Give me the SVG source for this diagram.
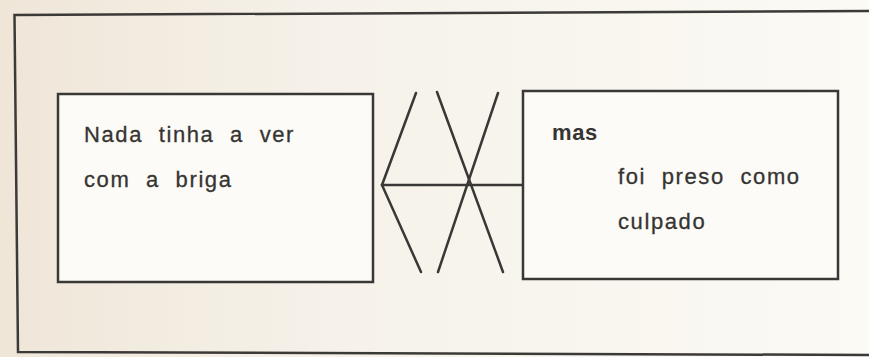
<svg xmlns="http://www.w3.org/2000/svg" width="869" height="357" viewBox="0 0 869 357">
<defs>
<linearGradient id="bg" x1="0" y1="0" x2="1" y2="0">
<stop offset="0" stop-color="#efe6d8"/>
<stop offset="0.4" stop-color="#f6f2ea"/>
<stop offset="1" stop-color="#fbfaf4"/>
</linearGradient>
<style>
.frame{fill:none;stroke:#3c3a38;stroke-width:2.5}
.box{fill:#fcfbf7;stroke:#3a3836;stroke-width:2.5}
.ln{stroke:#3a3836;stroke-width:2.5;fill:none;stroke-linecap:round}
.t{font-family:"Liberation Sans",Arial,sans-serif;font-size:22px;fill:#363432;stroke:#363432;stroke-width:0.3;letter-spacing:1.6px;word-spacing:8px}
.b{font-weight:bold;letter-spacing:0.6px;word-spacing:0;stroke-width:0}
</style>
</defs>
<rect x="0" y="0" width="869" height="357" fill="url(#bg)"/>
<polyline class="frame" points="869,11 14.5,15 18,352 869,355"/>
<g id="connectors">
<line class="ln" x1="382" y1="185" x2="416" y2="93"/>
<line class="ln" x1="382" y1="185" x2="421" y2="272"/>
<line class="ln" x1="382" y1="185" x2="522" y2="185"/>
<line class="ln" x1="437" y1="92" x2="503" y2="272"/>
<line class="ln" x1="498" y1="93" x2="438" y2="272"/>
</g>
<g id="left-box">
<rect class="box" x="58" y="94" width="315" height="188"/>
<text class="t" x="84" y="142">Nada tinha a ver</text>
<text class="t" x="84" y="187">com a briga</text>
</g>
<g id="right-box">
<rect class="box" x="523" y="91" width="315" height="188"/>
<text class="t b" x="552" y="140">mas</text>
<text class="t" x="618" y="184">foi preso como</text>
<text class="t" x="618" y="229">culpado</text>
</g>
</svg>
